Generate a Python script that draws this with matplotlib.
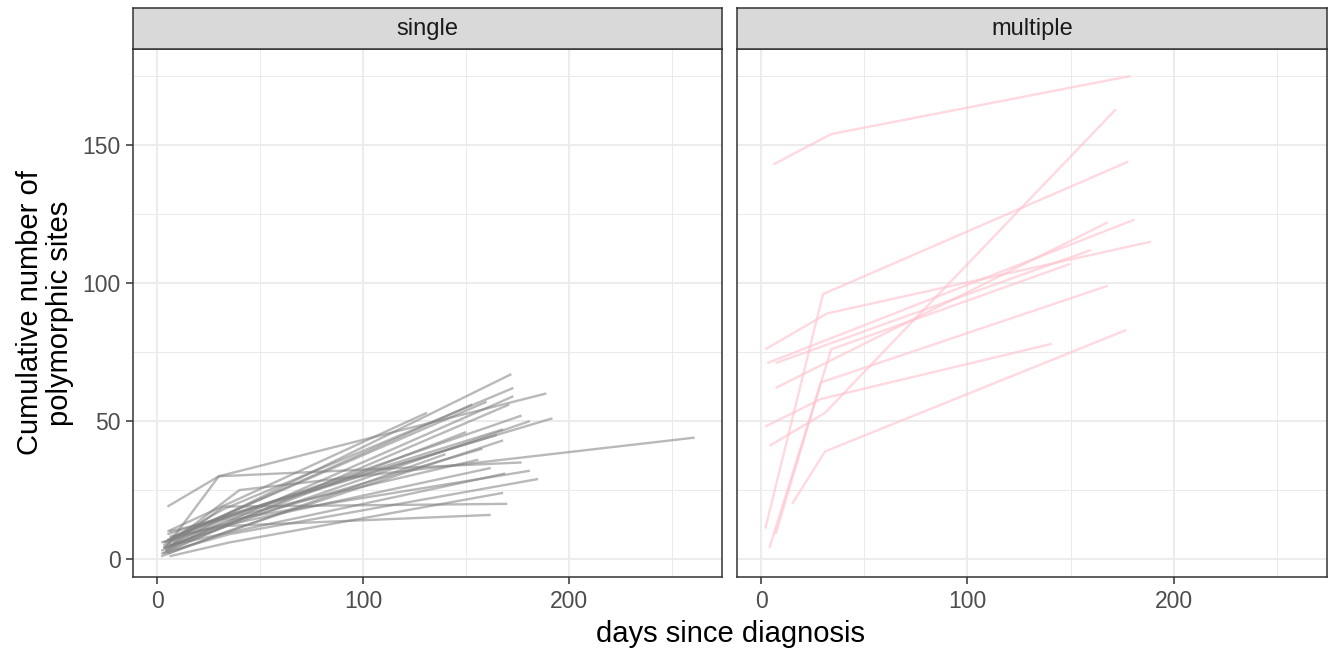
import matplotlib
matplotlib.use("Agg")
import matplotlib.pyplot as plt

plt.rcParams['font.family'] = ['Liberation Sans', 'DejaVu Sans']

# facet labels
panels = ["single", "multiple"]

# single-infection trajectories: (days, cumulative sites)
single_days = [
    [3, 172], [4, 32, 173], [2, 173], [4, 30, 189], [5, 160],
    [3, 33, 171], [6, 177], [8, 35, 192], [3, 181], [5, 168],
    [2, 34, 168], [6, 156], [5, 30, 177], [3, 40, 261], [7, 162],
    [4, 33, 181], [6, 169], [2, 35, 185], [6, 35, 168], [5, 32, 170],
    [4, 34, 162], [5, 131], [3, 153], [4, 150], [7, 33, 165],
    [2, 158], [5, 140],
]
single_sites = [
    [5, 67], [6, 18, 62], [3, 59], [4, 30, 60], [7, 57],
    [2, 12, 56], [8, 52], [6, 16, 51], [4, 50], [9, 47],
    [1, 10, 43], [10, 36], [19, 30, 35], [4, 25, 44], [8, 33],
    [3, 14, 32], [5, 31], [2, 9, 29], [1, 6, 24], [4, 19, 20],
    [3, 12, 16], [10, 53], [6, 56], [4, 46], [5, 15, 45],
    [6, 40], [2, 38],
]

# multiple-infection trajectories
multiple_days = [
    [6, 34, 179], [4, 31, 172], [2, 30, 178], [4, 34, 150], [7, 29, 168],
    [15, 31, 177], [2, 29, 141], [2, 32, 189], [3, 181], [7, 160], [7, 168],
]
multiple_sites = [
    [143, 154, 175], [41, 53, 163], [11, 96, 144], [4, 76, 107], [9, 64, 99],
    [20, 39, 83], [48, 58, 78], [76, 89, 115], [71, 123], [71, 112], [62, 122],
]

W, H = 1330, 649
fig = plt.figure(figsize=(W / 100, H / 100), dpi=100)

boxes = [(133, 722), (737, 1327)]
top, bottom, strip_top = 49, 577, 8
data = [(single_days, single_sites, "#808080", 0.55),
        (multiple_days, multiple_sites, "pink", 0.6)]

for i, ((x0, x1), name, (dd, ss, col, al)) in enumerate(zip(boxes, panels, data)):
    ax = fig.add_axes([x0 / W, 1 - bottom / H, (x1 - x0) / W, (bottom - top) / H])
    for d, s in zip(dd, ss):
        ax.plot(d, s, color=col, alpha=al, lw=1.7, solid_capstyle='butt')
    ax.set_xlim(-11.7, 274.3)
    ax.set_ylim(-6.5, 184.8)
    ax.set_xticks([0, 100, 200])
    ax.set_xticks([50, 150, 250], minor=True)
    ax.set_yticks([0, 50, 100, 150])
    ax.set_yticks([25, 75, 125, 175], minor=True)
    ax.grid(True, which='major', color='#ebebeb', lw=1.3)
    ax.grid(True, which='minor', color='#ebebeb', lw=0.7)
    ax.set_axisbelow(True)
    for sp in ax.spines.values():
        sp.set_color('#333333')
        sp.set_linewidth(1.1)
    ax.tick_params(which='major', length=5, width=1.1, color='#333333',
                   labelcolor='#4d4d4d', labelsize=16.5, pad=4)
    ax.tick_params(which='minor', length=0)
    if i == 1:
        ax.tick_params(axis='y', labelleft=False, length=0)
    # strip
    sax = fig.add_axes([x0 / W, 1 - top / H, (x1 - x0) / W, (top - strip_top) / H])
    sax.set_xticks([])
    sax.set_yticks([])
    sax.set_facecolor('#d9d9d9')
    for sp in sax.spines.values():
        sp.set_color('#333333')
        sp.set_linewidth(1.1)
    sax.text(0.5, 0.5, name, ha='center', va='center', fontsize=17,
             color='#1a1a1a', transform=sax.transAxes)

fig.text(730 / W, 1 - 634 / H, "days since diagnosis", ha='center', va='center', fontsize=21)
fig.text(45 / W, 1 - 313 / H, "Cumulative number of\npolymorphic sites", ha='center',
         va='center', rotation=90, fontsize=21, linespacing=1.05)

fig.savefig("out.png", dpi=100)
